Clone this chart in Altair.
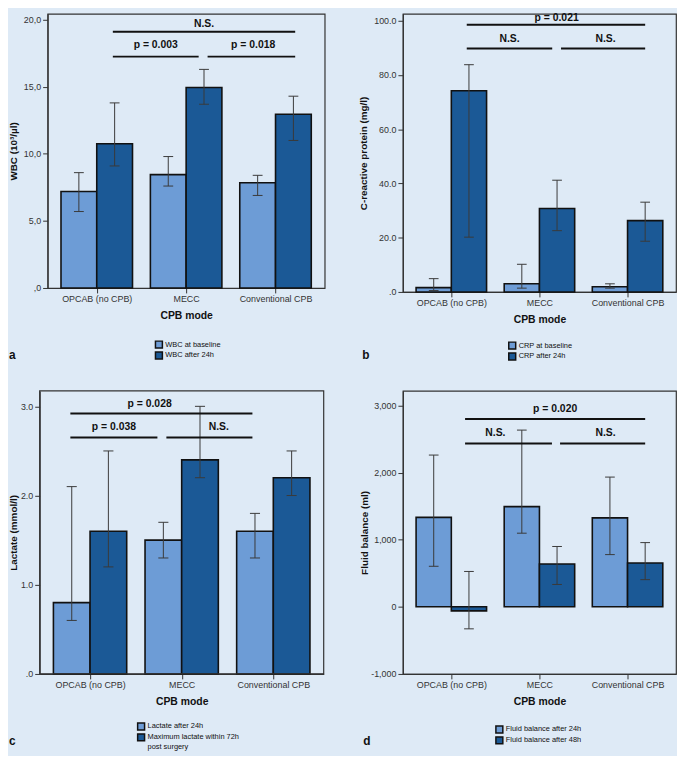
import altair as alt
import pandas as pd

GROUPS = ["OPCAB (no CPB)", "MECC", "Conventional CPB"]
GROUP_POS = [1, 2, 3]

# ---- panel a : WBC ----
A_SERIES = ["WBC at baseline", "WBC after 24h"]
A_BASE = [7.2, 8.45, 7.85]
A_BASE_LO = [5.7, 7.6, 6.9]
A_BASE_HI = [8.6, 9.8, 8.4]
A_AFTER = [10.75, 14.95, 12.95]
A_AFTER_LO = [9.1, 13.7, 11.0]
A_AFTER_HI = [13.8, 16.3, 14.3]
A_YTICKS = [0, 5, 10, 15, 20]
A_YLABELS = [",0", "5,0", "10,0", "15,0", "20,0"]
A_SIG_X1 = [1.18, 1.18, 2.24]
A_SIG_X2 = [3.22, 2.14, 3.22]
A_SIG_Y = [19.1, 17.25, 17.25]
A_TXT_X = [2.2, 1.66, 2.75]
A_TXT_Y = [19.65, 18.1, 18.1]
A_TXT = ["N.S.", "p = 0.003", "p = 0.018"]

# ---- panel b : CRP ----
B_SERIES = ["CRP at baseline", "CRP after 24h"]
B_BASE = [1.6, 3.0, 1.9]
B_BASE_LO = [0.5, 1.4, 1.4]
B_BASE_HI = [4.9, 10.2, 3.0]
B_AFTER = [74.2, 30.8, 26.3]
B_AFTER_LO = [20.2, 22.6, 18.7]
B_AFTER_HI = [83.8, 41.2, 33.1]
B_YTICKS = [0, 20, 40, 60, 80, 100]
B_YLABELS = [".0", "20.0", "40.0", "60.0", "80.0", "100.0"]
B_SIG_X1 = [1.175, 1.175, 2.245]
B_SIG_X2 = [3.2, 2.145, 3.2]
B_SIG_Y = [98.5, 89.8, 89.8]
B_TXT_X = [2.195, 1.66, 2.75]
B_TXT_Y = [101.0, 93.4, 93.4]
B_TXT = ["p = 0.021", "N.S.", "N.S."]

# ---- panel c : Lactate ----
C_SERIES = ["Lactate after 24h", "Maximum lactate within 72h post surgery"]
C_LEGEND_LINES = ["Maximum lactate within 72h", "post surgery"]
C_BASE = [0.8, 1.5, 1.6]
C_BASE_LO = [0.6, 1.3, 1.3]
C_BASE_HI = [2.1, 1.7, 1.8]
C_AFTER = [1.6, 2.4, 2.2]
C_AFTER_LO = [1.2, 2.2, 2.0]
C_AFTER_HI = [2.5, 3.0, 2.5]
C_YTICKS = [0, 1, 2, 3]
C_YLABELS = [".0", "1.0", "2.0", "3.0"]
C_SIG_X1 = [0.785, 0.785, 1.833]
C_SIG_X2 = [2.772, 1.735, 2.772]
C_SIG_Y = [2.92, 2.65, 2.65]
C_TXT_X = [1.65, 1.26, 2.405]
C_TXT_Y = [3.03, 2.77, 2.77]
C_TXT = ["p = 0.028", "p = 0.038", "N.S."]

# ---- panel d : Fluid balance ----
D_SERIES = ["Fluid balance after 24h", "Fluid balance after 48h"]
D_BASE = [1333, 1493, 1325]
D_BASE_LO = [604, 1097, 778]
D_BASE_HI = [2261, 2633, 1933]
D_AFTER = [-60, 638, 652]
D_AFTER_LO = [-328, 333, 405]
D_AFTER_HI = [527, 899, 957]
D_YTICKS = [-1000, 0, 1000, 2000, 3000]
D_YLABELS = ["-1,000", "0", "1,000", "2,000", "3,000"]
D_SIG_X1 = [1.156, 1.156, 2.234]
D_SIG_X2 = [3.2, 2.142, 3.2]
D_SIG_Y = [2797, 2435, 2435]
D_TXT_X = [2.178, 1.5, 2.75]
D_TXT_Y = [2948, 2594, 2594]
D_TXT = ["p = 0.020", "N.S.", "N.S."]

BG = "#deeaf6"
LIGHT = "#6d9cd6"
DARK = "#1b5996"
INK = "#111111"
FRAME = "#333333"
ERR = "#3a3a3a"
FONT = "Liberation Sans"
BAR_W = 0.4
CAP = 0.055
X_DOMAIN = [0.45, 3.55]


def label_expr(values, labels):
    expr = "''"
    for v, l in reversed(list(zip(values, labels))):
        expr = f"datum.value == {v} ? '{l}' : ({expr})"
    return expr


def panel(series, base, blo, bhi, after, alo, ahi, ydom, yticks, ylabels,
          ytitle, w, h, title_x, sx1, sx2, sy, tx, ty, tt, letter, lx, ly,
          leg_x, leg_y, leg_label_expr=None, shift=0):
    rows = []
    for p, v, lo, hi in zip(GROUP_POS, base, blo, bhi):
        rows.append(dict(series=series[0], x0=p - BAR_W, x1=p, cx=p - BAR_W / 2,
                         value=v, lo=lo, hi=hi))
    for p, v, lo, hi in zip(GROUP_POS, after, alo, ahi):
        rows.append(dict(series=series[1], x0=p, x1=p + BAR_W, cx=p + BAR_W / 2,
                         value=v, lo=lo, hi=hi))
    df = pd.DataFrame(rows)
    df["zero"] = 0.0
    df["c0"] = df["cx"] - CAP
    df["c1"] = df["cx"] + CAP

    if shift:
        xsc = alt.Scale(domain=X_DOMAIN, range=[-shift, w], nice=False, zero=False)
    else:
        xsc = alt.Scale(domain=X_DOMAIN, nice=False, zero=False)
    ysc = alt.Scale(domain=ydom, nice=False, zero=False)
    xaxis = alt.Axis(values=GROUP_POS, labelExpr=label_expr(GROUP_POS, GROUPS),
                     title="CPB mode", titleFontSize=10.5, titlePadding=7,
                     labelPadding=2, labelFlush=False, labelOverlap=False)
    yaxis = alt.Axis(values=yticks, labelExpr=label_expr(yticks, ylabels),
                     title=ytitle, titleX=title_x, titleBaseline="middle",
                     titleFontSize=10, labelPadding=2, labelFlush=False,
                     labelOverlap=False, offset=shift)

    legend_kw = dict(title=None, orient="none", legendX=leg_x, legendY=leg_y,
                     direction="vertical", symbolType="square", symbolSize=49,
                     symbolStrokeColor=INK, symbolStrokeWidth=1.5,
                     labelFontSize=7.5, labelColor=INK, labelOffset=2,
                     rowPadding=-7.5, padding=0, labelLimit=300)
    if leg_label_expr:
        legend_kw["labelExpr"] = leg_label_expr

    basec = alt.Chart(df)
    bars = basec.mark_bar(stroke=INK, strokeWidth=1.6).encode(
        x=alt.X("x0:Q", scale=xsc, axis=xaxis), x2="x1:Q",
        y=alt.Y("value:Q", scale=ysc, axis=yaxis), y2="zero:Q",
        color=alt.Color("series:N", scale=alt.Scale(domain=series, range=[LIGHT, DARK]),
                        legend=alt.Legend(**legend_kw)))
    err = basec.mark_rule(color=ERR, strokeWidth=1).encode(
        x=alt.X("cx:Q", scale=xsc, axis=xaxis),
        y=alt.Y("lo:Q", scale=ysc, axis=yaxis), y2="hi:Q")
    cap_lo = basec.mark_rule(color=ERR, strokeWidth=1).encode(
        x=alt.X("c0:Q", scale=xsc, axis=xaxis), x2="c1:Q",
        y=alt.Y("lo:Q", scale=ysc, axis=yaxis))
    cap_hi = basec.mark_rule(color=ERR, strokeWidth=1).encode(
        x=alt.X("c0:Q", scale=xsc, axis=xaxis), x2="c1:Q",
        y=alt.Y("hi:Q", scale=ysc, axis=yaxis))

    sig_df = pd.DataFrame({"a": sx1, "b": sx2, "y": sy})
    sig = alt.Chart(sig_df).mark_rule(color=INK, strokeWidth=2).encode(
        x=alt.X("a:Q", scale=xsc, axis=xaxis), x2="b:Q",
        y=alt.Y("y:Q", scale=ysc, axis=yaxis))
    txt_df = pd.DataFrame({"x": tx, "y": ty, "t": tt})
    txt = alt.Chart(txt_df).mark_text(fontWeight="bold", fontSize=10.5, color=INK,
                                      baseline="middle", font=FONT).encode(
        x=alt.X("x:Q", scale=xsc, axis=xaxis),
        y=alt.Y("y:Q", scale=ysc, axis=yaxis), text="t:N")
    let = alt.Chart(pd.DataFrame({"t": [letter]})).mark_text(
        fontWeight="bold", fontSize=12, color=INK, align="left",
        baseline="alphabetic", font=FONT).encode(
        x=alt.value(lx), y=alt.value(ly), text="t:N")

    layers = [bars, err, cap_lo, cap_hi, sig, txt, let]
    props = dict(width=w, height=h)
    if shift:
        frame_df = pd.DataFrame({"x": [X_DOMAIN[0]], "x2": [X_DOMAIN[1]],
                                 "y": [ydom[0]], "y2": [ydom[1]]})
        frame = alt.Chart(frame_df).mark_rect(fillOpacity=0, stroke=FRAME,
                                              strokeWidth=1.2).encode(
            x=alt.X("x:Q", scale=xsc, axis=xaxis), x2="x2:Q",
            y=alt.Y("y:Q", scale=ysc, axis=yaxis), y2="y2:Q")
        layers.append(frame)
        props["view"] = alt.ViewBackground(stroke="transparent")
    return alt.layer(*layers).properties(**props)


pa = panel(A_SERIES, A_BASE, A_BASE_LO, A_BASE_HI, A_AFTER, A_AFTER_LO, A_AFTER_HI,
           [0, 20.44], A_YTICKS, A_YLABELS, "WBC (10³/µl)", 280, 277, -34,
           A_SIG_X1, A_SIG_X2, A_SIG_Y, A_TXT_X, A_TXT_Y, A_TXT, "a", -39, 348.6,
           108, 329.7)
pb = panel(B_SERIES, B_BASE, B_BASE_LO, B_BASE_HI, B_AFTER, B_AFTER_LO, B_AFTER_HI,
           [0, 102.55], B_YTICKS, B_YLABELS, "C-reactive protein (mg/l)", 276, 281, -39.5,
           B_SIG_X1, B_SIG_X2, B_SIG_Y, B_TXT_X, B_TXT_Y, B_TXT, "b", -41, 348.6,
           106, 330.7)
c_expr = (f"datum.label == '{C_SERIES[1]}' ? ['{C_LEGEND_LINES[0]}', '{C_LEGEND_LINES[1]}']"
          " : datum.label")
pc = panel(C_SERIES, C_BASE, C_BASE_LO, C_BASE_HI, C_AFTER, C_AFTER_LO, C_AFTER_HI,
           [0, 3.173], C_YTICKS, C_YLABELS, "Lactate (mmol/l)", 279, 286, -26,
           C_SIG_X1, C_SIG_X2, C_SIG_Y, C_TXT_X, C_TXT_Y, C_TXT, "c", -39, 358,
           90, 334.6, leg_label_expr=c_expr, shift=8)
pd_ = panel(D_SERIES, D_BASE, D_BASE_LO, D_BASE_HI, D_AFTER, D_AFTER_LO, D_AFTER_HI,
            [-1000, 3217], D_YTICKS, D_YLABELS, "Fluid balance (ml)", 276, 286, -39,
            D_SIG_X1, D_SIG_X2, D_SIG_Y, D_TXT_X, D_TXT_Y, D_TXT, "d", -40, 358,
            93, 337.6)

chart = (
    alt.concat(pa, pb, pc, pd_, columns=2, bounds="flush",
               spacing=alt.RowColnumber(row=100, column=79))
    .resolve_scale(color="independent", x="independent", y="independent")
    .resolve_legend(color="independent")
    .properties(padding=0)
    .configure(background=BG, font=FONT)
    .configure_view(stroke=FRAME, strokeWidth=1.2)
    .configure_axis(grid=False, labelFontSize=9, labelColor="#333333", labelFont=FONT,
                    titleFont=FONT, titleFontWeight="bold", titleColor=INK,
                    tickColor="#333333", tickSize=5, domainColor="#333333",
                    domainWidth=1.2)
)

chart.save("out.html", embed_options={"renderer": "svg", "actions": False})
